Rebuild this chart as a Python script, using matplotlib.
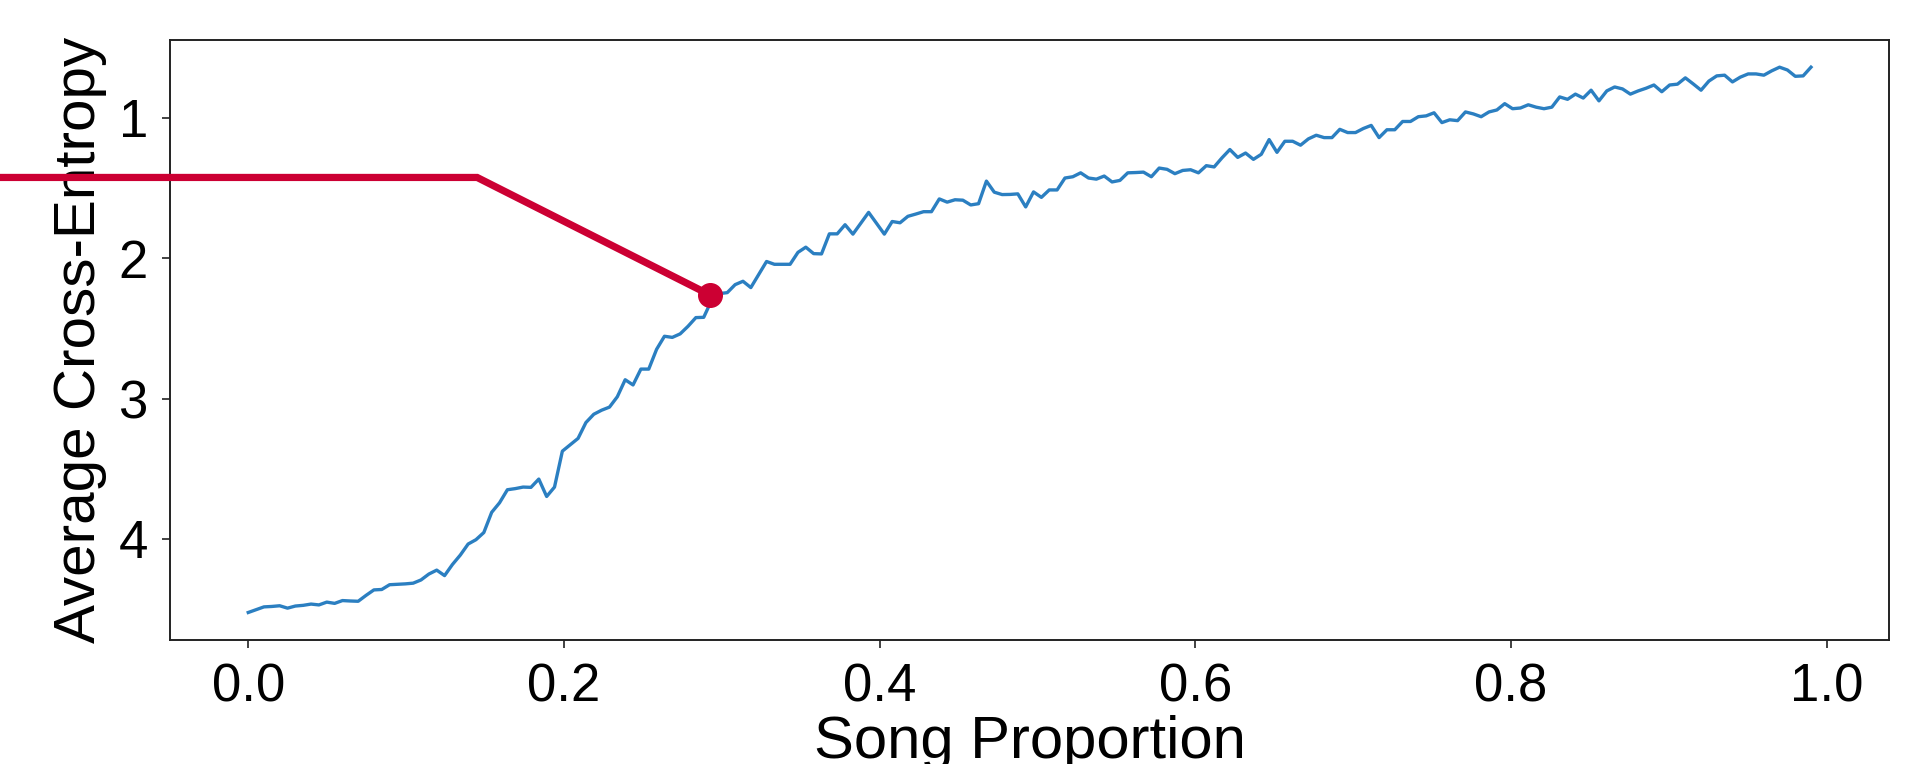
import numpy as np
import matplotlib
matplotlib.use("Agg")
import matplotlib.pyplot as plt

# average cross-entropy at each point through the song (200 evenly spaced samples)
song_proportion = np.linspace(0.0, 0.99, 200)
cross_entropy = [
    4.525, 4.505, 4.485, 4.482, 4.477, 4.494, 4.479, 4.474, 4.465, 4.471,
    4.451, 4.460, 4.440, 4.443, 4.445, 4.403, 4.364, 4.361, 4.327, 4.324,
    4.321, 4.316, 4.293, 4.251, 4.223, 4.262, 4.183, 4.116, 4.037, 4.006,
    3.955, 3.811, 3.743, 3.650, 3.642, 3.631, 3.633, 3.574, 3.698, 3.631,
    3.375, 3.329, 3.284, 3.171, 3.112, 3.083, 3.061, 2.987, 2.866, 2.903,
    2.790, 2.790, 2.649, 2.556, 2.564, 2.539, 2.485, 2.423, 2.421, 2.300,
    2.252, 2.245, 2.188, 2.164, 2.209, 2.116, 2.023, 2.043, 2.043, 2.043,
    1.958, 1.921, 1.967, 1.969, 1.826, 1.826, 1.761, 1.828, 1.751, 1.673,
    1.751, 1.828, 1.738, 1.747, 1.701, 1.685, 1.668, 1.668, 1.577, 1.600,
    1.583, 1.586, 1.620, 1.611, 1.450, 1.529, 1.546, 1.545, 1.541, 1.634,
    1.527, 1.566, 1.513, 1.513, 1.428, 1.419, 1.391, 1.428, 1.436, 1.414,
    1.456, 1.445, 1.391, 1.389, 1.386, 1.419, 1.357, 1.366, 1.397, 1.374,
    1.369, 1.391, 1.340, 1.349, 1.284, 1.225, 1.281, 1.250, 1.295, 1.259,
    1.154, 1.245, 1.166, 1.166, 1.194, 1.149, 1.123, 1.140, 1.140, 1.081,
    1.104, 1.104, 1.075, 1.053, 1.140, 1.084, 1.084, 1.025, 1.025, 0.991,
    0.985, 0.963, 1.033, 1.013, 1.019, 0.957, 0.971, 0.991, 0.957, 0.943,
    0.898, 0.934, 0.929, 0.906, 0.923, 0.934, 0.923, 0.850, 0.867, 0.830,
    0.858, 0.802, 0.878, 0.807, 0.779, 0.793, 0.830, 0.807, 0.788, 0.765,
    0.813, 0.765, 0.759, 0.714, 0.757, 0.802, 0.737, 0.700, 0.695, 0.743,
    0.709, 0.686, 0.686, 0.695, 0.664, 0.638, 0.658, 0.703, 0.700, 0.638,
]

# callout: runs in from the left edge, bends down to a point on the curve
callout_x = [-0.17, 0.145, 0.2928]
callout_y = [1.424, 1.424, 2.263]

plt.rcParams['font.family'] = ['Liberation Sans', 'DejaVu Sans']

fig = plt.figure(figsize=(19.33, 7.64), dpi=100)
ax = fig.add_axes([0.088, 0.1625, 0.8893, 0.7850])

ax.plot(song_proportion, cross_entropy, color='#2b7fc1', linewidth=2.4)

ax.plot(callout_x, callout_y, color='#cc0033', linewidth=5.2,
        solid_joinstyle='miter', clip_on=False, zorder=6)
ax.plot(callout_x[-1], callout_y[-1], 'o', color='#cc0033', markersize=17,
        clip_on=False, zorder=7)

ax.set_xlim(-0.0495, 1.0395)
ax.set_ylim(4.72, 0.445)
ax.set_yticks([1, 2, 3, 4])
ax.set_xticks([0.0, 0.2, 0.4, 0.6, 0.8, 1.0])

ax.set_xlabel('Song Proportion', fontsize=43, labelpad=2)
ax.set_ylabel('Average Cross-Entropy', fontsize=42, labelpad=8)
ax.tick_params(axis='both', labelsize=38, length=6, width=1.3,
               color='#333333', pad=10)

for side in ax.spines.values():
    side.set_color('#222222')
    side.set_linewidth(1.4)

fig.savefig('out.png', dpi=100)
